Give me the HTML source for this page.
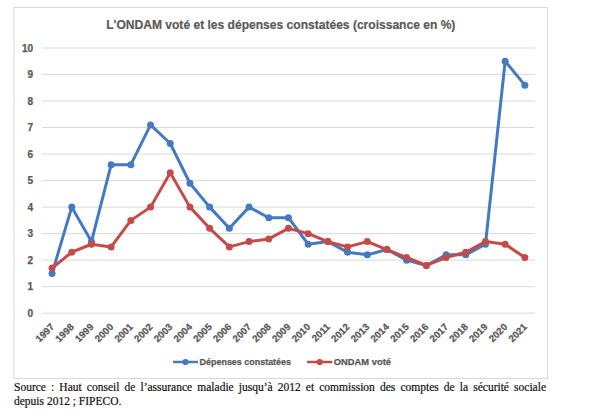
<!DOCTYPE html>
<html lang="fr"><head><meta charset="utf-8"><title>ONDAM</title>
<style>
html,body{margin:0;padding:0;background:#fff;}
body{width:600px;height:418px;position:relative;overflow:hidden;}
svg{position:absolute;left:0;top:0;}
.ax{font-family:"Liberation Sans",sans-serif;font-weight:bold;font-size:9.7px;fill:#595959;stroke:#595959;stroke-width:0.25px;}
.ay{font-size:10.1px;}
.ti{font-family:"Liberation Sans",sans-serif;font-weight:bold;font-size:13.1px;fill:#595959;stroke:#595959;stroke-width:0.2px;}
.lg{font-family:"Liberation Sans",sans-serif;font-weight:bold;font-size:9.2px;fill:#595959;stroke:#595959;stroke-width:0.25px;}
.src{position:absolute;left:14px;width:532px;font-family:"Liberation Serif",serif;font-size:11.5px;line-height:13px;color:#111;white-space:nowrap;-webkit-text-stroke:0.2px #111;}
.l1{top:381px;text-align:justify;text-align-last:justify;}
.l2{top:395px;}
</style></head><body>
<svg width="600" height="418" viewBox="0 0 600 418"><rect x="14" y="7.5" width="533.5" height="371" fill="#fff" stroke="#D9D9D9" stroke-width="1"/><line x1="42.2" y1="313.20" x2="534.7" y2="313.20" stroke="#D9D9D9" stroke-width="1"/><line x1="42.2" y1="286.68" x2="534.7" y2="286.68" stroke="#D9D9D9" stroke-width="1"/><line x1="42.2" y1="260.16" x2="534.7" y2="260.16" stroke="#D9D9D9" stroke-width="1"/><line x1="42.2" y1="233.64" x2="534.7" y2="233.64" stroke="#D9D9D9" stroke-width="1"/><line x1="42.2" y1="207.12" x2="534.7" y2="207.12" stroke="#D9D9D9" stroke-width="1"/><line x1="42.2" y1="180.60" x2="534.7" y2="180.60" stroke="#D9D9D9" stroke-width="1"/><line x1="42.2" y1="154.08" x2="534.7" y2="154.08" stroke="#D9D9D9" stroke-width="1"/><line x1="42.2" y1="127.56" x2="534.7" y2="127.56" stroke="#D9D9D9" stroke-width="1"/><line x1="42.2" y1="101.04" x2="534.7" y2="101.04" stroke="#D9D9D9" stroke-width="1"/><line x1="42.2" y1="74.52" x2="534.7" y2="74.52" stroke="#D9D9D9" stroke-width="1"/><line x1="42.2" y1="48.00" x2="534.7" y2="48.00" stroke="#D9D9D9" stroke-width="1"/><text x="33.2" y="316.70" text-anchor="end" class="ax ay">0</text><text x="33.2" y="290.18" text-anchor="end" class="ax ay">1</text><text x="33.2" y="263.66" text-anchor="end" class="ax ay">2</text><text x="33.2" y="237.14" text-anchor="end" class="ax ay">3</text><text x="33.2" y="210.62" text-anchor="end" class="ax ay">4</text><text x="33.2" y="184.10" text-anchor="end" class="ax ay">5</text><text x="33.2" y="157.58" text-anchor="end" class="ax ay">6</text><text x="33.2" y="131.06" text-anchor="end" class="ax ay">7</text><text x="33.2" y="104.54" text-anchor="end" class="ax ay">8</text><text x="33.2" y="78.02" text-anchor="end" class="ax ay">9</text><text x="33.2" y="51.50" text-anchor="end" class="ax ay">10</text><text transform="translate(54.85,327.50) rotate(-45)" text-anchor="end" class="ax">1997</text><text transform="translate(74.55,327.50) rotate(-45)" text-anchor="end" class="ax">1998</text><text transform="translate(94.25,327.50) rotate(-45)" text-anchor="end" class="ax">1999</text><text transform="translate(113.95,327.50) rotate(-45)" text-anchor="end" class="ax">2000</text><text transform="translate(133.65,327.50) rotate(-45)" text-anchor="end" class="ax">2001</text><text transform="translate(153.35,327.50) rotate(-45)" text-anchor="end" class="ax">2002</text><text transform="translate(173.05,327.50) rotate(-45)" text-anchor="end" class="ax">2003</text><text transform="translate(192.75,327.50) rotate(-45)" text-anchor="end" class="ax">2004</text><text transform="translate(212.45,327.50) rotate(-45)" text-anchor="end" class="ax">2005</text><text transform="translate(232.15,327.50) rotate(-45)" text-anchor="end" class="ax">2006</text><text transform="translate(251.85,327.50) rotate(-45)" text-anchor="end" class="ax">2007</text><text transform="translate(271.55,327.50) rotate(-45)" text-anchor="end" class="ax">2008</text><text transform="translate(291.25,327.50) rotate(-45)" text-anchor="end" class="ax">2009</text><text transform="translate(310.95,327.50) rotate(-45)" text-anchor="end" class="ax">2010</text><text transform="translate(330.65,327.50) rotate(-45)" text-anchor="end" class="ax">2011</text><text transform="translate(350.35,327.50) rotate(-45)" text-anchor="end" class="ax">2012</text><text transform="translate(370.05,327.50) rotate(-45)" text-anchor="end" class="ax">2013</text><text transform="translate(389.75,327.50) rotate(-45)" text-anchor="end" class="ax">2014</text><text transform="translate(409.45,327.50) rotate(-45)" text-anchor="end" class="ax">2015</text><text transform="translate(429.15,327.50) rotate(-45)" text-anchor="end" class="ax">2016</text><text transform="translate(448.85,327.50) rotate(-45)" text-anchor="end" class="ax">2017</text><text transform="translate(468.55,327.50) rotate(-45)" text-anchor="end" class="ax">2018</text><text transform="translate(488.25,327.50) rotate(-45)" text-anchor="end" class="ax">2019</text><text transform="translate(507.95,327.50) rotate(-45)" text-anchor="end" class="ax">2020</text><text transform="translate(527.65,327.50) rotate(-45)" text-anchor="end" class="ax">2021</text><polyline points="52.05,273.42 71.75,207.12 91.45,241.60 111.15,164.69 130.85,164.69 150.55,124.91 170.25,143.47 189.95,183.25 209.65,207.12 229.35,228.34 249.05,207.12 268.75,217.73 288.45,217.73 308.15,244.25 327.85,241.60 347.55,252.20 367.25,254.86 386.95,249.55 406.65,260.16 426.35,265.46 446.05,254.86 465.75,254.86 485.45,244.25 505.15,61.26 524.85,85.13" fill="none" stroke="#437AC2" stroke-width="3.0" stroke-linejoin="round" stroke-linecap="round"/><circle cx="52.05" cy="273.42" r="3.5" fill="#437AC2"/><circle cx="71.75" cy="207.12" r="3.5" fill="#437AC2"/><circle cx="91.45" cy="241.60" r="3.5" fill="#437AC2"/><circle cx="111.15" cy="164.69" r="3.5" fill="#437AC2"/><circle cx="130.85" cy="164.69" r="3.5" fill="#437AC2"/><circle cx="150.55" cy="124.91" r="3.5" fill="#437AC2"/><circle cx="170.25" cy="143.47" r="3.5" fill="#437AC2"/><circle cx="189.95" cy="183.25" r="3.5" fill="#437AC2"/><circle cx="209.65" cy="207.12" r="3.5" fill="#437AC2"/><circle cx="229.35" cy="228.34" r="3.5" fill="#437AC2"/><circle cx="249.05" cy="207.12" r="3.5" fill="#437AC2"/><circle cx="268.75" cy="217.73" r="3.5" fill="#437AC2"/><circle cx="288.45" cy="217.73" r="3.5" fill="#437AC2"/><circle cx="308.15" cy="244.25" r="3.5" fill="#437AC2"/><circle cx="327.85" cy="241.60" r="3.5" fill="#437AC2"/><circle cx="347.55" cy="252.20" r="3.5" fill="#437AC2"/><circle cx="367.25" cy="254.86" r="3.5" fill="#437AC2"/><circle cx="386.95" cy="249.55" r="3.5" fill="#437AC2"/><circle cx="406.65" cy="260.16" r="3.5" fill="#437AC2"/><circle cx="426.35" cy="265.46" r="3.5" fill="#437AC2"/><circle cx="446.05" cy="254.86" r="3.5" fill="#437AC2"/><circle cx="465.75" cy="254.86" r="3.5" fill="#437AC2"/><circle cx="485.45" cy="244.25" r="3.5" fill="#437AC2"/><circle cx="505.15" cy="61.26" r="3.5" fill="#437AC2"/><circle cx="524.85" cy="85.13" r="3.5" fill="#437AC2"/><polyline points="52.05,268.12 71.75,252.20 91.45,244.25 111.15,246.90 130.85,220.38 150.55,207.12 170.25,172.64 189.95,207.12 209.65,228.34 229.35,246.90 249.05,241.60 268.75,238.94 288.45,228.34 308.15,233.64 327.85,241.60 347.55,246.90 367.25,241.60 386.95,249.55 406.65,257.51 426.35,265.46 446.05,257.51 465.75,252.20 485.45,241.60 505.15,244.25 524.85,257.51" fill="none" stroke="#C54B49" stroke-width="3.0" stroke-linejoin="round" stroke-linecap="round"/><circle cx="52.05" cy="268.12" r="3.5" fill="#C54B49"/><circle cx="71.75" cy="252.20" r="3.5" fill="#C54B49"/><circle cx="91.45" cy="244.25" r="3.5" fill="#C54B49"/><circle cx="111.15" cy="246.90" r="3.5" fill="#C54B49"/><circle cx="130.85" cy="220.38" r="3.5" fill="#C54B49"/><circle cx="150.55" cy="207.12" r="3.5" fill="#C54B49"/><circle cx="170.25" cy="172.64" r="3.5" fill="#C54B49"/><circle cx="189.95" cy="207.12" r="3.5" fill="#C54B49"/><circle cx="209.65" cy="228.34" r="3.5" fill="#C54B49"/><circle cx="229.35" cy="246.90" r="3.5" fill="#C54B49"/><circle cx="249.05" cy="241.60" r="3.5" fill="#C54B49"/><circle cx="268.75" cy="238.94" r="3.5" fill="#C54B49"/><circle cx="288.45" cy="228.34" r="3.5" fill="#C54B49"/><circle cx="308.15" cy="233.64" r="3.5" fill="#C54B49"/><circle cx="327.85" cy="241.60" r="3.5" fill="#C54B49"/><circle cx="347.55" cy="246.90" r="3.5" fill="#C54B49"/><circle cx="367.25" cy="241.60" r="3.5" fill="#C54B49"/><circle cx="386.95" cy="249.55" r="3.5" fill="#C54B49"/><circle cx="406.65" cy="257.51" r="3.5" fill="#C54B49"/><circle cx="426.35" cy="265.46" r="3.5" fill="#C54B49"/><circle cx="446.05" cy="257.51" r="3.5" fill="#C54B49"/><circle cx="465.75" cy="252.20" r="3.5" fill="#C54B49"/><circle cx="485.45" cy="241.60" r="3.5" fill="#C54B49"/><circle cx="505.15" cy="244.25" r="3.5" fill="#C54B49"/><circle cx="524.85" cy="257.51" r="3.5" fill="#C54B49"/><text x="106.2" y="28.9" class="ti" textLength="349.2" lengthAdjust="spacingAndGlyphs">L'ONDAM voté et les dépenses constatées (croissance en %)</text><line x1="173" y1="362" x2="198" y2="362" stroke="#437AC2" stroke-width="2.5"/><circle cx="185.5" cy="362" r="3.1" fill="#437AC2"/><text x="199.6" y="365.4" class="lg" textLength="91.4" lengthAdjust="spacingAndGlyphs">Dépenses constatées</text><line x1="307" y1="362" x2="332.4" y2="362" stroke="#C54B49" stroke-width="2.5"/><circle cx="319.7" cy="362" r="3.1" fill="#C54B49"/><text x="333.8" y="365.4" class="lg" textLength="57.2" lengthAdjust="spacingAndGlyphs">ONDAM voté</text></svg>
<div class="src l1">Source&nbsp;: Haut conseil de l’assurance maladie jusqu’à 2012 et commission des comptes de la sécurité sociale</div>
<div class="src l2">depuis 2012&nbsp;; FIPECO.</div>
</body></html>
